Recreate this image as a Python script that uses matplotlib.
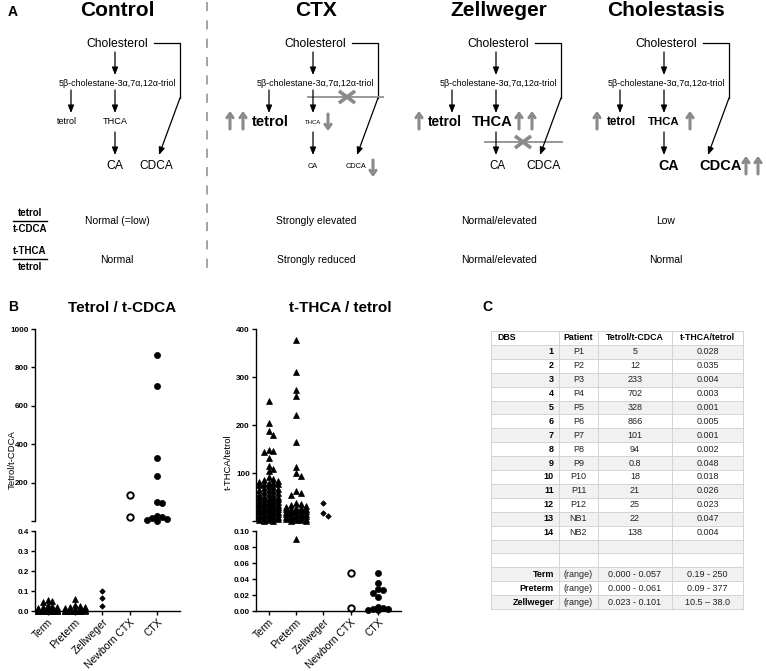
import numpy as np
import matplotlib
matplotlib.use("Agg")
import matplotlib.pyplot as plt
from matplotlib.patches import Rectangle

plt.rcParams['font.family'] = ['Liberation Sans', 'DejaVu Sans']

# ---------------- data ----------------
conditions = ['Control', 'CTX', 'Zellweger', 'Cholestasis']
ratio1_text = ['Normal (=low)', 'Strongly elevated', 'Normal/elevated', 'Low']
ratio2_text = ['Normal', 'Strongly reduced', 'Normal/elevated', 'Normal']

groups = ['Term', 'Preterm', 'Zellweger', 'Newborn CTX', 'CTX']

# DBS table (patients P1-P12 = CTX, NB1-NB2 = newborn CTX)
patients = ['P1', 'P2', 'P3', 'P4', 'P5', 'P6', 'P7', 'P8', 'P9', 'P10', 'P11', 'P12', 'NB1', 'NB2']
tetrol_cdca = [5, 12, 233, 702, 328, 866, 101, 94, 0.8, 18, 21, 25, 22, 138]
thca_tetrol = [0.028, 0.035, 0.004, 0.003, 0.001, 0.005, 0.001, 0.002, 0.048, 0.018, 0.026, 0.023, 0.047, 0.004]
range_groups = ['Term', 'Preterm', 'Zellweger']
range_tc = ['0.000 - 0.057', '0.000 - 0.061', '0.023 - 0.101']
range_tt = ['0.19 - 250', '0.09 - 377', '10.5 \u2013 38.0']

# control / Zellweger values
term_tc = [0.057, 0.05, 0.045, 0.028, 0.024, 0.02, 0.018, 0.016, 0.014, 0.012, 0.011, 0.010,
           0.009, 0.008, 0.007, 0.006, 0.006, 0.005, 0.005, 0.004, 0.004, 0.003, 0.003, 0.003,
           0.002, 0.002, 0.002, 0.001, 0.001, 0.001, 0.001, 0.0, 0.0, 0.0, 0.0, 0.0, 0.0, 0.0]
preterm_tc = [0.061, 0.032, 0.026, 0.021, 0.018, 0.015, 0.012, 0.010, 0.008, 0.007, 0.006,
              0.005, 0.004, 0.003, 0.003, 0.002, 0.002, 0.001, 0.001, 0.0, 0.0, 0.0, 0.0, 0.0, 0.0]
zell_tc = [0.101, 0.065, 0.023]

term_tt = [250, 205, 187, 180, 148, 145, 143, 131, 115, 108, 105, 91, 88, 86, 84, 82, 80, 79,
           78, 77, 75, 72, 70, 68, 66, 65, 64, 62, 60, 58, 57, 56, 54, 52, 51, 50, 48, 47, 46,
           45, 44, 42, 41, 40, 39, 38, 37, 36, 35, 34, 33, 32, 31, 30, 29, 28, 27, 26, 25, 24,
           23, 22, 21, 20, 19, 18, 17, 16, 15, 14, 13, 12, 11, 10, 9, 8, 7, 6, 5, 4, 3, 2, 1, 0.19]
preterm_tt = [377, 310, 273, 260, 220, 165, 113, 101, 93, 62, 58, 55, 37, 35, 33, 31, 30, 28,
              27, 26, 25, 24, 23, 22, 21, 20, 19, 18, 17, 16, 15, 14, 13, 12, 11, 10, 9, 8, 7,
              6, 5, 4, 3, 2, 1, 0.5, 0.09]
zell_tt = [38.0, 17.0, 10.5]

W, H = 766, 671
fig = plt.figure(figsize=(7.66, 6.71), dpi=100)
ax0 = fig.add_axes([0, 0, 1, 1])
ax0.set_xlim(0, W)
ax0.set_ylim(H, 0)
ax0.axis('off')

GRAY = '#8a8a8a'


def black_arrow(x0, y0, x1, y1):
    ax0.annotate('', xy=(x1, y1), xytext=(x0, y0),
                 arrowprops=dict(arrowstyle='-|>,head_length=0.45,head_width=0.18',
                                 color='black', lw=0.9, shrinkA=0, shrinkB=0))


def gray_arrow(x, y0, y1):
    ax0.annotate('', xy=(x, y1), xytext=(x, y0),
                 arrowprops=dict(arrowstyle='->,head_length=0.3,head_width=0.22',
                                 color=GRAY, lw=2.2, shrinkA=0, shrinkB=0))


def block(x0, x1, y, xc):
    ax0.plot([x0, x1], [y, y], color='#999999', lw=1.4)
    ax0.plot([xc - 8, xc + 8], [y - 6, y + 6], color=GRAY, lw=2.6, solid_capstyle='butt')
    ax0.plot([xc - 8, xc + 8], [y + 6, y - 6], color=GRAY, lw=2.6, solid_capstyle='butt')


# ---------------- panel A ----------------
ax0.text(8, 12, 'A', fontsize=10, fontweight='bold', va='center')
ax0.plot([207, 207], [2, 277], color=GRAY, lw=1.1, ls=(0, (6, 6)))

col_x = [115, 313, 496, 664]
title_x = [117, 316, 499, 666]
for t, tx in zip(conditions, title_x):
    ax0.text(tx, 11, t, fontsize=15, fontweight='bold', ha='center', va='center')

# per panel label styles: (x, size, weight)
tetrol_lbl = [(67, 6.5, 'normal'), (270, 10.7, 'bold'), (445, 9.8, 'bold'), (621, 8.4, 'bold')]
thca_lbl = [(115, 6.6, 'normal'), (313, 4.3, 'normal'), (492, 10.6, 'bold'), (664, 8.2, 'bold')]
ca_lbl = [(115, 8.8, 'normal'), (313, 5.2, 'normal'), (497, 8.4, 'normal'), (669, 10.3, 'bold')]
cdca_lbl = [(156, 8.6, 'normal'), (356, 5.3, 'normal'), (544, 8.7, 'normal'), (721, 10.5, 'bold')]

for i, cx in enumerate(col_x):
    ax0.text(cx + 2, 44, 'Cholesterol', fontsize=8.7, ha='center', va='center')
    black_arrow(cx, 52, cx, 75)
    ax0.text(cx + 2, 83, '5\u03b2-cholestane-3\u03b1,7\u03b1,12\u03b1-triol', fontsize=6.4,
             ha='center', va='center')
    tx = cx - 44
    black_arrow(tx, 90, tx, 113)
    black_arrow(cx, 90, cx, 113)
    black_arrow(cx, 132, cx, 155)
    # side branch to CDCA
    bx = cx + 65
    ax0.plot([cx + 39, bx, bx], [43, 43, 98], color='black', lw=0.9)
    black_arrow(bx, 98, cx + 44, 155)
    x, s, w = tetrol_lbl[i]
    ax0.text(x, 122, 'tetrol', fontsize=s, fontweight=w, ha='center', va='center')
    x, s, w = thca_lbl[i]
    ax0.text(x, 122, 'THCA', fontsize=s, fontweight=w, ha='center', va='center')
    x, s, w = ca_lbl[i]
    ax0.text(x, 166, 'CA', fontsize=s, fontweight=w, ha='center', va='center')
    x, s, w = cdca_lbl[i]
    ax0.text(x, 166, 'CDCA', fontsize=s, fontweight=w, ha='center', va='center')

# gray markers for elevated / reduced metabolites
for x in (230, 243, 419, 519, 532, 597, 690):
    gray_arrow(x, 129, 111)
gray_arrow(328, 114, 131)
gray_arrow(373, 160, 177)
for x in (746, 758):
    gray_arrow(x, 174, 156)
block(308, 383, 97, 347)
block(485, 562, 142, 523)

# ratio rows
for y0, top, bot in [(221, 'tetrol', 't-CDCA'), (259, 't-THCA', 'tetrol')]:
    ax0.text(30, y0 - 8, top, fontsize=7, fontweight='bold', ha='center', va='center')
    ax0.plot([13, 47], [y0, y0], color='black', lw=1.0)
    ax0.text(30, y0 + 8, bot, fontsize=7, fontweight='bold', ha='center', va='center')
for tx, r1, r2 in zip(title_x, ratio1_text, ratio2_text):
    ax0.text(tx, 221, r1, fontsize=7.5, ha='center', va='center')
    ax0.text(tx, 260, r2, fontsize=7.5, ha='center', va='center')

# ---------------- panel B ----------------
ax0.text(8, 307, 'B', fontsize=10, fontweight='bold', va='center')
ax0.text(122, 308, 'Tetrol / t-CDCA', fontsize=11, fontweight='bold', ha='center', va='center')
ax0.text(340, 308, 't-THCA / tetrol', fontsize=11, fontweight='bold', ha='center', va='center')
ax0.text(12, 460, 'Tetrol/t-CDCA', fontsize=6.8, rotation=90, ha='center', va='center')
ax0.text(228, 462, 't-THCA/tetrol', fontsize=6.8, rotation=90, ha='center', va='center')

PX_CAT = 27.25
UP_BOT, UP_TOP = 521, 329
LO_BOT, LO_TOP = 611, 531


def fx(px):
    return px / W


def fy(py):
    return 1 - py / H


def swarm(vals, ppu, step=4.8, d=4.6, maxk=2):
    vals = np.asarray(vals, float)
    order = np.argsort(-vals, kind='stable')
    placed = []
    offs = np.zeros(len(vals))
    ks = [0]
    for k in range(1, maxk + 1):
        ks += [k, -k]
    for i in order:
        y = vals[i] * ppu
        best, bestd = 0.0, -1.0
        for k in ks:
            x = k * step
            md = min([np.hypot(x - px, y - py) for px, py in placed], default=1e9)
            if md >= d:
                best = x
                break
            if md > bestd:
                bestd, best = md, x
        placed.append((best, y))
        offs[i] = best
    return offs / PX_CAT


styles = {
    'Term': dict(marker='^', ms=4.2, mfc='black', mec='black', mew=0.5),
    'Preterm': dict(marker='^', ms=4.2, mfc='black', mec='black', mew=0.5),
    'Zellweger': dict(marker='D', ms=2.8, mfc='black', mec='black', mew=0.5),
    'Newborn CTX': dict(marker='o', ms=4.6, mfc='white', mec='black', mew=1.4),
    'CTX': dict(marker='o', ms=4.4, mfc='black', mec='black', mew=0.5),
}

panels = [
    dict(x0=35, data=[term_tc, preterm_tc, zell_tc, tetrol_cdca[12:], tetrol_cdca[:12]],
         up=(1000, [0, 200, 400, 600, 800, 1000], ['', '200', '400', '600', '800', '1000']),
         lo=(0.4, [0, 0.1, 0.2, 0.3, 0.4], ['0.0', '0.1', '0.2', '0.3', '0.4'])),
    dict(x0=256, data=[term_tt, preterm_tt, zell_tt, thca_tetrol[12:], thca_tetrol[:12]],
         up=(400, [0, 100, 200, 300, 400], ['', '100', '200', '300', '400']),
         lo=(0.1, [0, 0.02, 0.04, 0.06, 0.08, 0.10], ['0.00', '0.02', '0.04', '0.06', '0.08', '0.10'])),
]

for p in panels:
    left = fx(p['x0'])
    width = 145 / W
    axu = fig.add_axes([left, fy(UP_BOT), width, (UP_BOT - UP_TOP) / H])
    axl = fig.add_axes([left, fy(LO_BOT), width, (LO_BOT - LO_TOP) / H])
    umax, uticks, ulabels = p['up']
    lmax, lticks, llabels = p['lo']
    axu.set_ylim(0, umax)
    axl.set_ylim(0, lmax)
    for a in (axu, axl):
        a.set_facecolor('none')
        a.set_xlim(-0.46, 4.84)
        for s in ('top', 'right'):
            a.spines[s].set_visible(False)
        a.spines['left'].set_linewidth(1.0)
        a.tick_params(axis='y', length=3, width=1.0, pad=1.5, labelsize=5.8)
    axu.spines['bottom'].set_visible(False)
    axu.set_xticks([])
    axu.set_yticks(uticks)
    axu.set_yticklabels(ulabels, fontweight='bold')
    axl.set_yticks(lticks)
    axl.set_yticklabels(llabels, fontweight='bold')
    axl.spines['bottom'].set_linewidth(1.0)
    axl.set_xticks(range(len(groups)))
    axl.set_xticklabels(groups, rotation=45, ha='right', rotation_mode='anchor', fontsize=7.5)
    axl.tick_params(axis='x', length=3, width=1.0, pad=1.5)

    ppu_up = (UP_BOT - UP_TOP) / umax
    ppu_lo = (LO_BOT - LO_TOP) / lmax
    for gi, (g, vals) in enumerate(zip(groups, p['data'])):
        vals = np.asarray(vals, float)
        hi = vals[vals > lmax]
        lo = vals[vals <= lmax]
        if len(hi):
            axu.plot(gi + swarm(hi, ppu_up), hi, ls='none', clip_on=False, **styles[g])
        if len(lo):
            axl.plot(gi + swarm(lo, ppu_lo), lo, ls='none', clip_on=False, **styles[g])

# ---------------- panel C ----------------
ax0.text(482, 307, 'C', fontsize=10, fontweight='bold', va='center')
col_edges = [491, 559, 598, 672, 743]
row_h = 13.9
top = 331

rows = [('DBS', 'Patient', 'Tetrol/t-CDCA', 't-THCA/tetrol')]
for i, (pt, a, b) in enumerate(zip(patients, tetrol_cdca, thca_tetrol)):
    rows.append((str(i + 1), pt, f'{a:g}', f'{b:.3f}'))
rows += [('', '', '', ''), ('', '', '', '')]
for g, a, b in zip(range_groups, range_tc, range_tt):
    rows.append((g, '(range)', a, b))

for r, row in enumerate(rows):
    y = top + r * row_h
    if r % 2 == 1:
        ax0.add_patch(Rectangle((col_edges[0], y), col_edges[-1] - col_edges[0], row_h,
                                facecolor='#f1f1f1', edgecolor='none'))
    yc = y + row_h / 2
    for c, txt in enumerate(row):
        if r == 0:
            if c == 0:
                ax0.text(col_edges[0] + 6, yc, txt, fontsize=6.3, fontweight='bold', va='center')
            else:
                ax0.text((col_edges[c] + col_edges[c + 1]) / 2, yc, txt, fontsize=6.3,
                         fontweight='bold', ha='center', va='center')
        elif c == 0:
            ax0.text(col_edges[1] - 5, yc, txt, fontsize=6.5, fontweight='bold', ha='right', va='center')
        else:
            ax0.text((col_edges[c] + col_edges[c + 1]) / 2, yc, txt, fontsize=6.5,
                     ha='center', va='center', color='#222222')

bottom = top + len(rows) * row_h
for r in range(len(rows) + 1):
    ax0.plot([col_edges[0], col_edges[-1]], [top + r * row_h] * 2, color='#d4d4d4', lw=0.7)
for x in col_edges:
    ax0.plot([x, x], [top, bottom], color='#d4d4d4', lw=0.7)

fig.savefig('out.png', dpi=100)
